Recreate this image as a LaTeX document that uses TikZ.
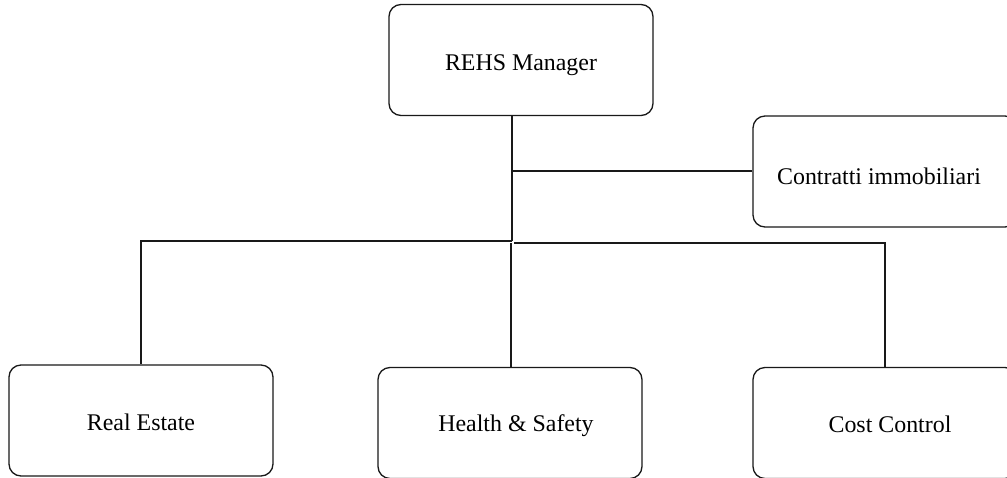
\documentclass[tikz,border=0pt]{standalone}
\usepackage{fontspec}
\setmainfont{Liberation Serif}
\begin{document}
\begin{tikzpicture}[x=1pt,y=-1pt,
  orgbox/.style={draw=black!90,line width=1.3pt,rounded corners=12pt,minimum width=264pt,minimum height=111pt,inner sep=0pt},
  lbl/.style={font=\fontsize{23.9}{28}\selectfont,inner sep=0pt,anchor=base},
  conn/.style={draw=black!90,line width=1.3pt}]
\useasboundingbox (0,0) rectangle (1007,477);
\node[orgbox] (mgr) at (521,60) {};
\node[lbl] (mgrt) at (521,70) {REHS Manager};
\node[orgbox] (con) at (885,171.5) {};
\node[lbl] (cont) at (879,184) {Contratti immobiliari};
\node[orgbox] (re) at (141,420.5) {};
\node[lbl] (ret) at (141,430) {Real Estate};
\node[orgbox] (hs) at (510,423) {};
\node[lbl] (hst) at (516,431) {Health \& Safety};
\node[orgbox] (cc) at (885,423) {};
\node[lbl] (cct) at (890,432.5) {Cost Control};
\coordinate (j1) at (512,171);
\coordinate (j2) at (512,241);
\coordinate (jl) at (141,241);
\coordinate (jr) at (885,243);
\coordinate (jm) at (511,243);
\draw[conn] (mgr.south -| j2) -- (j2);
\draw[conn] (j1) -- (j1 -| con.west);
\draw[conn] (j2) -- (jl) -- (re.north);
\draw[conn] (j2 -| 514,0) ++(0,2) -- (jr) -- (cc.north);
\draw[conn] (jm) -- (jm |- hs.north);
\end{tikzpicture}
\end{document}
